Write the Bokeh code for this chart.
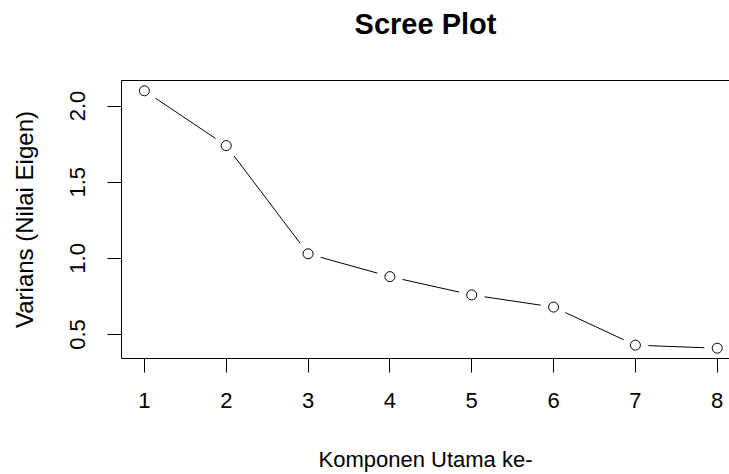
from bokeh.plotting import figure
from bokeh.models import Range1d, FixedTicker, LinearAxis
from bokeh.embed import file_html
from bokeh.resources import INLINE

# Eigenvalues of each principal component
komponen = [1, 2, 3, 4, 5, 6, 7, 8]
eigen = [2.10, 1.74, 1.03, 0.88, 0.76, 0.68, 0.43, 0.41]
x_ticks = [1, 2, 3, 4, 5, 6, 7, 8]
y_ticks = [0.5, 1.0, 1.5, 2.0]

FONT = "Liberation Sans"

# R-style 4% padding around the data
y_pad = 0.04 * (max(eigen) - min(eigen))
x_pad = 0.04 * (max(komponen) - min(komponen))

p = figure(
    width=729, height=474,
    output_backend="svg", toolbar_location=None,
    x_range=Range1d(min(komponen) - x_pad, 8.15),
    y_range=Range1d(min(eigen) - y_pad, max(eigen) + y_pad),
    x_axis_label="Komponen Utama ke-",
    y_axis_label="Varians (Nilai Eigen)",
    min_border_left=121, min_border_right=0,
    min_border_top=80, min_border_bottom=10,
)
p.outline_line_color = None
p.grid.visible = False
p.background_fill_color = "white"
p.border_fill_color = "white"

xax = p.below[0]
yax = p.left[0]

# top edge of the box, carrying the main title as its label
top = LinearAxis(ticker=FixedTicker(ticks=[]), axis_line_color="black",
                 axis_line_width=1, major_label_text_font_size="0px",
                 major_tick_line_color=None, minor_tick_line_color=None,
                 major_tick_out=0, major_label_standoff=0,
                 axis_label="Scree Plot", axis_label_text_font=FONT,
                 axis_label_text_font_size="29px",
                 axis_label_text_font_style="bold",
                 axis_label_text_color="black",
                 axis_label_standoff=41)
p.add_layout(top, "above")

for ax, ticks in ((xax, x_ticks), (yax, y_ticks)):
    ax.ticker = FixedTicker(ticks=ticks)
    ax.axis_line_color = "black"
    ax.major_tick_line_color = "black"
    ax.major_tick_out = 14
    ax.major_tick_in = 0
    ax.minor_tick_line_color = None
    ax.major_label_text_font = FONT
    ax.major_label_text_font_size = "22px"
    ax.major_label_text_color = "black"
    ax.axis_label_text_font = FONT
    ax.axis_label_text_font_size = "22px"
    ax.axis_label_text_font_style = "normal"
    ax.axis_label_text_color = "black"

xax.major_label_standoff = 20
xax.axis_label_standoff = 36
yax.major_label_standoff = 22
yax.major_label_orientation = "vertical"
yax.major_label_overrides = {t: f"{t:.1f}" for t in y_ticks}
yax.axis_label_standoff = 30
yax.axis_label_text_font_size = "24px"

# line with gaps around each point (type = "b")
p.line(komponen, eigen, line_color="black", line_width=1)
p.scatter(komponen, eigen, size=26, fill_color="white", line_color=None)
p.scatter(komponen, eigen, size=10, fill_color="white", line_color="black",
          line_width=1)

open("out.html", "w").write(file_html(p, INLINE))
